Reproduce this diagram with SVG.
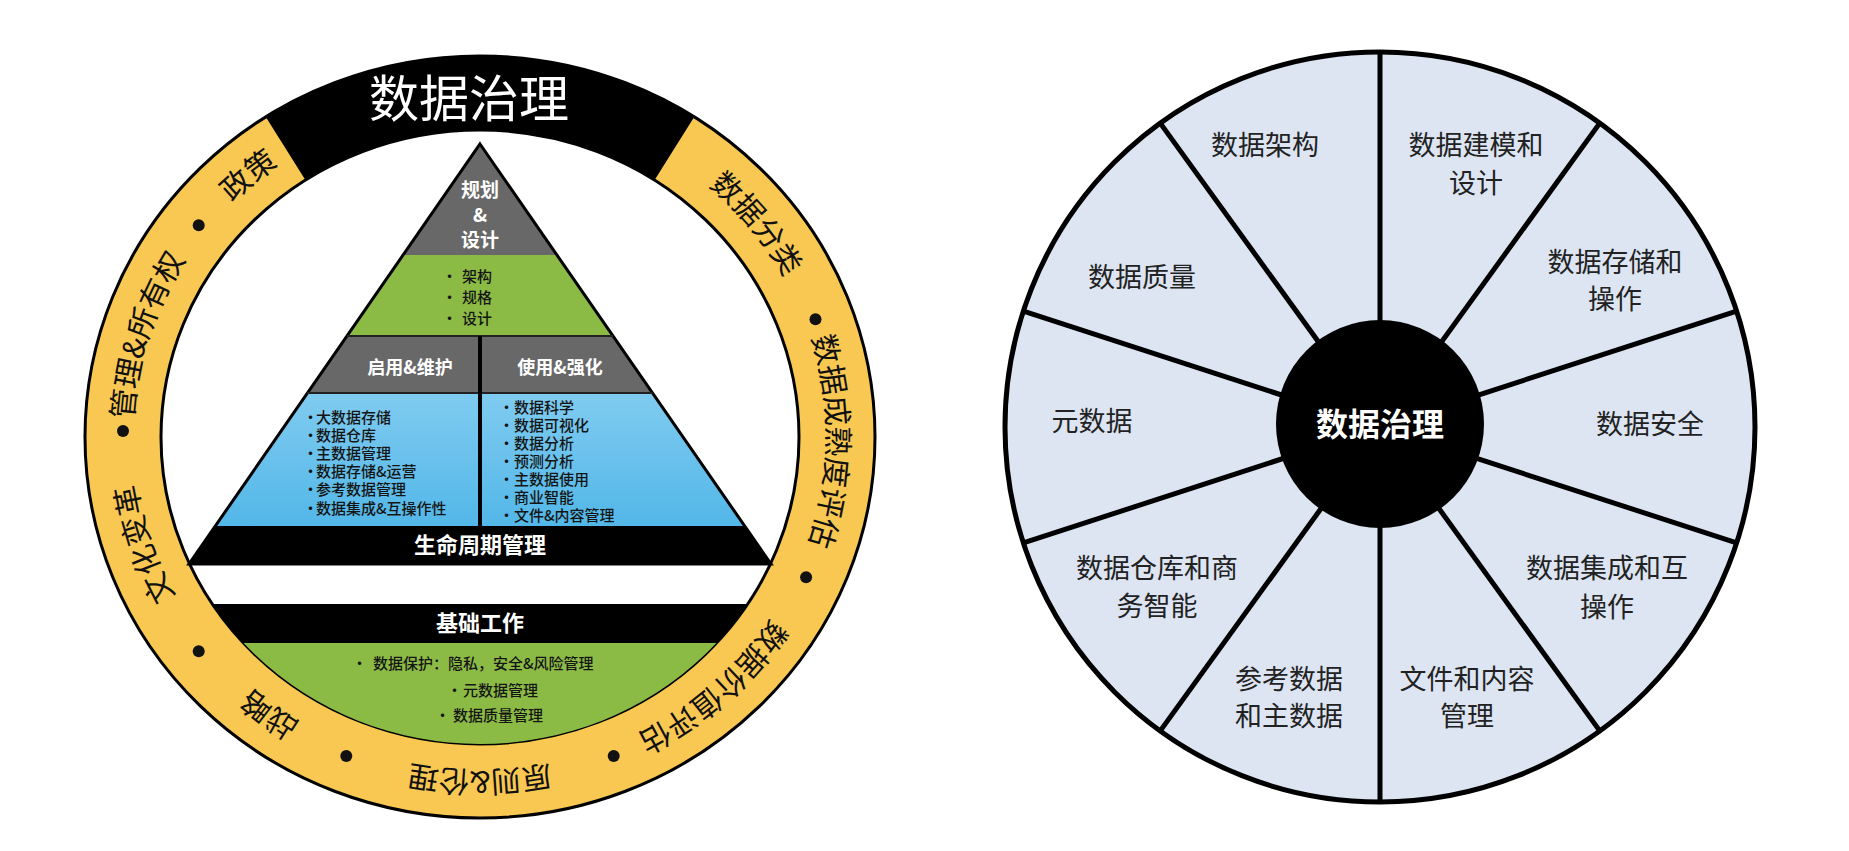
<svg xmlns="http://www.w3.org/2000/svg" width="1849" height="851" viewBox="0 0 1849 851">
<defs>
<style>
.cjk{font-family:"Noto Sans CJK SC","Liberation Sans",sans-serif}
.ring{font-family:"Noto Sans CJK SC",sans-serif;font-size:30px;fill:#111}
.wh{font-family:"Noto Sans CJK SC",sans-serif;fill:#fff;font-weight:bold;text-anchor:middle}
.li{font-family:"Noto Sans CJK SC",sans-serif;fill:#151515;font-size:15px;font-weight:500}
.wl{font-family:"Noto Sans CJK SC",sans-serif;fill:#222;font-size:27px;text-anchor:middle}
.dot{fill:#111}
</style>
<linearGradient id="blue" x1="0" y1="0" x2="0" y2="1"><stop offset="0" stop-color="#80CBF0"/><stop offset="1" stop-color="#52B7E8"/></linearGradient>
<clipPath id="inner"><ellipse cx="480" cy="437" rx="319" ry="307"/></clipPath>
<path id="rp" d="M480,103 A347,334 0 1 1 480,771 A347,334 0 1 1 480,103 A347,334 0 1 1 480,771 A347,334 0 1 1 480,103"/>
</defs>
<rect width="1849" height="851" fill="#fff"/>

<g id="ring">
<ellipse cx="480" cy="437" rx="357" ry="344" fill="none" stroke="#F9C852" stroke-width="74"/>
<path d="M285.6,148.5 A357,344 0 0 1 674.4,148.5" fill="none" stroke="#000" stroke-width="74"/>
<ellipse cx="480" cy="437" rx="395" ry="381" fill="none" stroke="#000" stroke-width="3"/>
<ellipse cx="480" cy="437" rx="319" ry="307" fill="none" stroke="#000" stroke-width="3"/>
<text class="cjk" x="469" y="117" font-size="50" fill="#fff" text-anchor="middle">数据治理</text>
<g class="ring" text-anchor="middle">
<text><textPath href="#rp" startOffset="7.2%">数据分类</textPath></text>
<text><textPath href="#rp" startOffset="12.6%">数据成熟度评估</textPath></text>
<text><textPath href="#rp" startOffset="19.1%">数据价值评估</textPath></text>
<text><textPath href="#rp" startOffset="25%">原则&amp;伦理</textPath></text>
<text><textPath href="#rp" startOffset="30.1%">战略</textPath></text>
<text><textPath href="#rp" startOffset="35%">文化变革</textPath></text>
<text><textPath href="#rp" startOffset="39.9%">管理&amp;所有权</textPath></text>
<text><textPath href="#rp" startOffset="44.3%">政策</textPath></text>
</g>
<g class="dot">
<circle cx="815.5" cy="319.3" r="6"/>
<circle cx="806.1" cy="577.2" r="6"/>
<circle cx="613.7" cy="756.0" r="6"/>
<circle cx="346.3" cy="756.0" r="6"/>
<circle cx="198.7" cy="651.2" r="6"/>
<circle cx="123" cy="431" r="6"/>
<circle cx="198.7" cy="225.2" r="6"/>
</g>
</g>

<g id="pyramid">
<polygon points="480,144 403,255 557,255" fill="#686868"/>
<polygon points="403,255 557,255 613,336 347,336" fill="#8CBB45"/>
<polygon points="347,336 613,336 652.6,393 307.4,393" fill="#686868"/>
<polygon points="307.4,393 652.6,393 744.7,526 215.3,526" fill="url(#blue)"/>
<polygon points="215.3,526 744.7,526 771,564 189,564" fill="#000"/>
<polygon points="480,144 771,564 189,564" fill="none" stroke="#000" stroke-width="3"/>
<line x1="347" y1="336" x2="613" y2="336" stroke="#222" stroke-width="2"/>
<line x1="307" y1="393" x2="653" y2="393" stroke="#222" stroke-width="2"/>
<line x1="480" y1="336" x2="480" y2="526" stroke="#000" stroke-width="4"/>
<text class="wh" font-size="19" x="480" y="197">规划</text>
<text class="wh" font-size="19" x="480" y="222">&amp;</text>
<text class="wh" font-size="19" x="480" y="247">设计</text>
<g class="li" font-size="16">
<text x="442" y="282">·</text><text x="462" y="282">架构</text>
<text x="442" y="303">·</text><text x="462" y="303">规格</text>
<text x="442" y="324">·</text><text x="462" y="324">设计</text>
</g>
<text class="wh" font-size="18" x="410" y="374">启用&amp;维护</text>
<text class="wh" font-size="18" x="560" y="374">使用&amp;强化</text>
<g class="li">
<text x="303" y="423">·</text><text x="316" y="423">大数据存储</text>
<text x="303" y="441">·</text><text x="316" y="441">数据仓库</text>
<text x="303" y="459">·</text><text x="316" y="459">主数据管理</text>
<text x="303" y="477">·</text><text x="316" y="477">数据存储&amp;运营</text>
<text x="303" y="495">·</text><text x="316" y="495">参考数据管理</text>
<text x="303" y="514">·</text><text x="316" y="514">数据集成&amp;互操作性</text>
<text x="499" y="413">·</text><text x="514" y="413">数据科学</text>
<text x="499" y="431">·</text><text x="514" y="431">数据可视化</text>
<text x="499" y="449">·</text><text x="514" y="449">数据分析</text>
<text x="499" y="467">·</text><text x="514" y="467">预测分析</text>
<text x="499" y="485">·</text><text x="514" y="485">主数据使用</text>
<text x="499" y="503">·</text><text x="514" y="503">商业智能</text>
<text x="499" y="521">·</text><text x="514" y="521">文件&amp;内容管理</text>
</g>
<text class="wh" font-size="22" x="480" y="553">生命周期管理</text>
</g>

<g id="foundation">
<g clip-path="url(#inner)">
<rect x="150" y="604" width="660" height="39" fill="#000"/>
<rect x="150" y="643" width="660" height="110" fill="#8CBB45"/>
</g>
<text class="wh" font-size="22" x="480" y="631">基础工作</text>
<g class="li" font-size="16">
<text x="352" y="669">·</text><text x="373" y="669">数据保护：隐私，安全&amp;风险管理</text>
<text x="447" y="696">·</text><text x="463" y="696">元数据管理</text>
<text x="435" y="721">·</text><text x="453" y="721">数据质量管理</text>
</g>
</g>

<g id="wheel">
<circle cx="1380" cy="427" r="375" fill="#DDE5F3" stroke="#000" stroke-width="5"/>
</g>
<g id="connectors" stroke="#000" stroke-width="5">
<line x1="1380" y1="52" x2="1380" y2="802"/>
<line x1="1160.6" y1="123.6" x2="1599.4" y2="730.4"/>
<line x1="1023.4" y1="311.1" x2="1736.6" y2="542.9"/>
<line x1="1023.4" y1="542.9" x2="1736.6" y2="311.1"/>
<line x1="1160.6" y1="730.4" x2="1599.4" y2="123.6"/>
</g>
<g id="hub">
<circle cx="1380" cy="424" r="104" fill="#000"/>
<text class="wh" font-size="32" x="1380" y="436">数据治理</text>
</g>
<g id="labels" class="wl">
<text x="1265" y="155">数据架构</text>
<text x="1476" y="155">数据建模和</text><text x="1476" y="193">设计</text>
<text x="1615" y="272">数据存储和</text><text x="1615" y="309">操作</text>
<text x="1650" y="434">数据安全</text>
<text x="1607" y="578">数据集成和互</text><text x="1607" y="617">操作</text>
<text x="1467" y="689">文件和内容</text><text x="1467" y="726">管理</text>
<text x="1289" y="689">参考数据</text><text x="1289" y="726">和主数据</text>
<text x="1157" y="578">数据仓库和商</text><text x="1157" y="616">务智能</text>
<text x="1092" y="431">元数据</text>
<text x="1142" y="287">数据质量</text>
</g>
</svg>
